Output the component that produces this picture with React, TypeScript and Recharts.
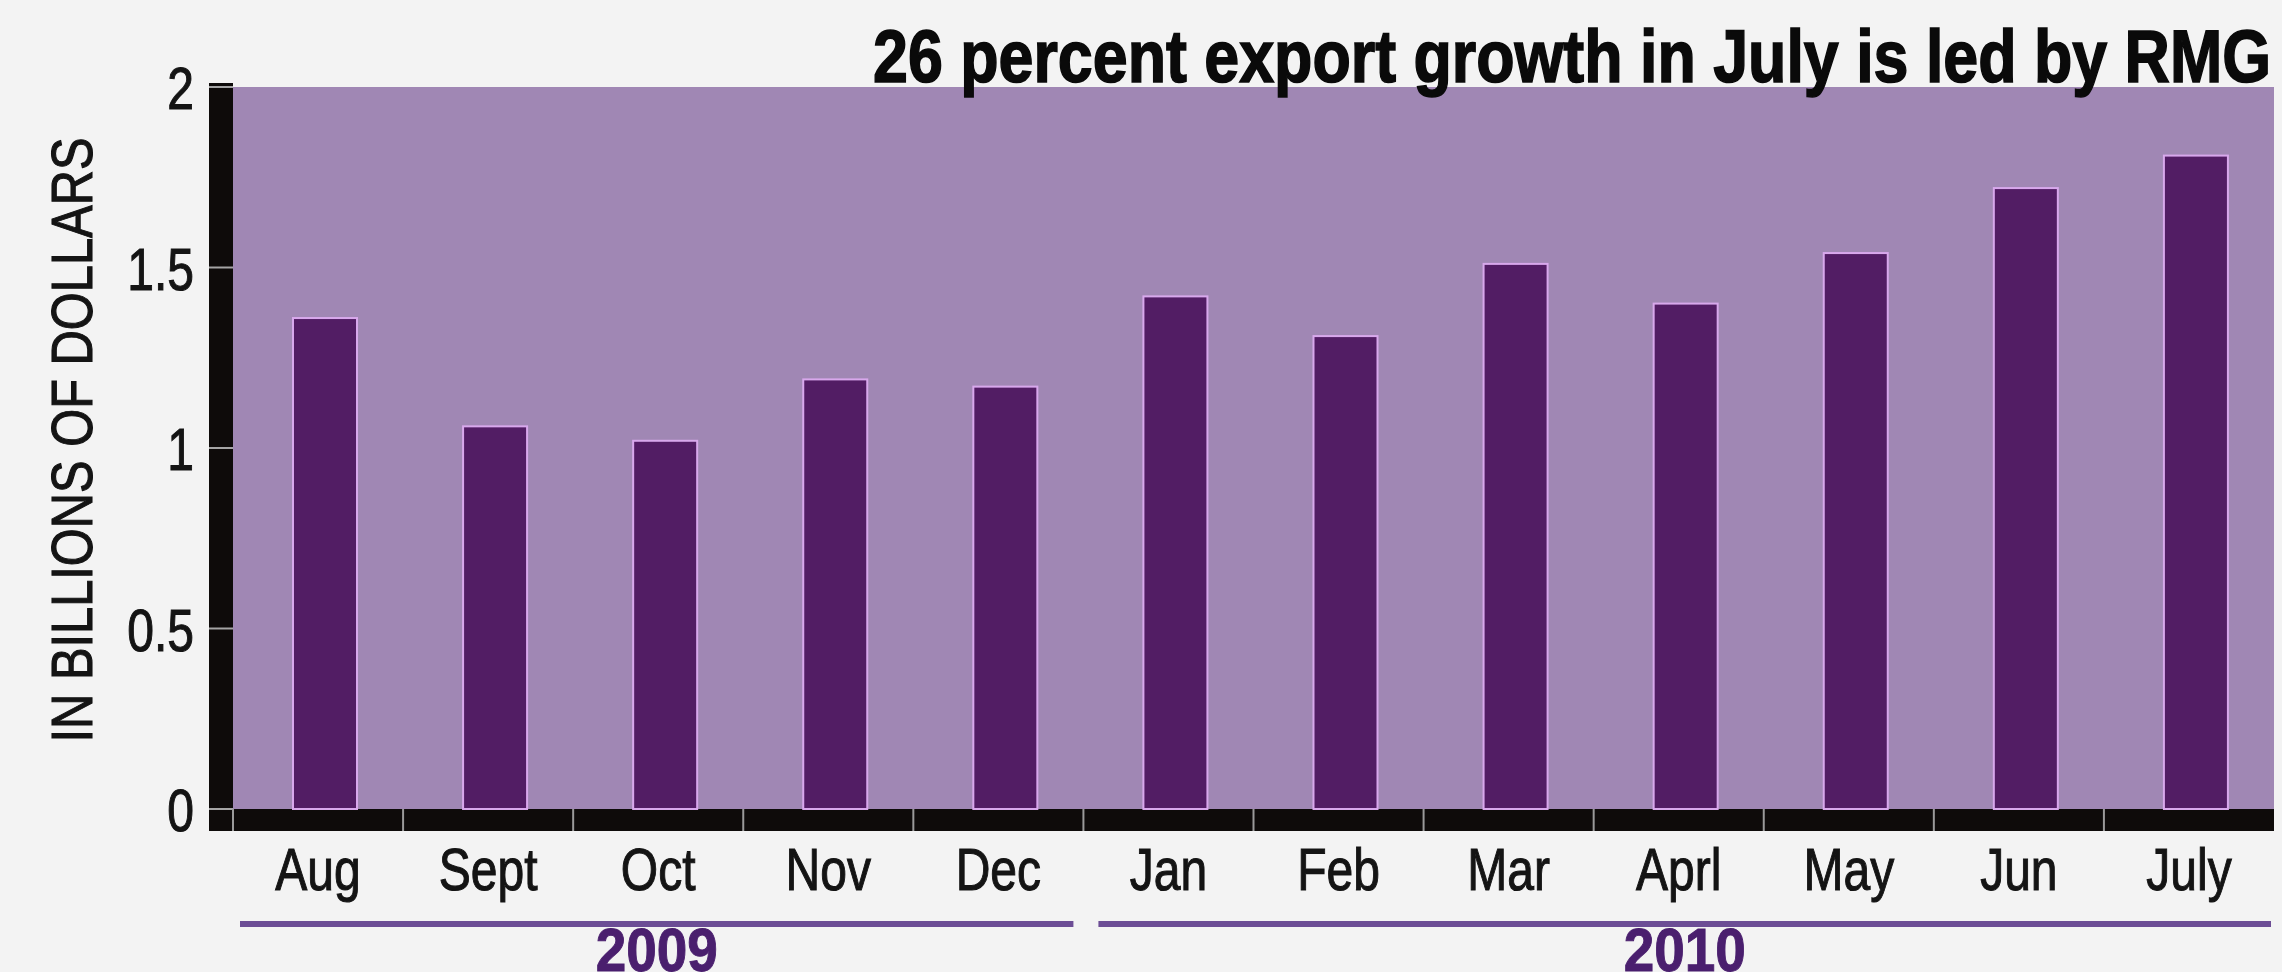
import React from 'react';
import { BarChart, Bar, XAxis, YAxis, ReferenceArea } from 'recharts';

// ---- data ----
const categories = ['Aug', 'Sept', 'Oct', 'Nov', 'Dec', 'Jan', 'Feb', 'Mar', 'Aprl', 'May', 'Jun', 'July'];
const exportValues = [1.36, 1.06, 1.02, 1.19, 1.17, 1.42, 1.31, 1.51, 1.40, 1.54, 1.72, 1.81];
const yTicks = [0, 0.5, 1, 1.5, 2];
const yearLabels = ['2009', '2010'];
const yearFirstIndex = [0, 5];
const yearLastIndex = [4, 11];
const titleText = '26 percent export growth in July is led by RMG';
const yAxisTitle = 'IN BILLIONS OF DOLLARS';

const data = categories.map((month, i) => ({ month, value: exportValues[i] }));

// ---- layout ----
const W = 2282;
const H = 972;
const PLOT_LEFT = 233;
const PLOT_RIGHT = 2274;
const PLOT_TOP = 87;
const PLOT_BOTTOM = 809;
const BAR_W = 24;
const BAND_H = 22;
const CAT_W = (PLOT_RIGHT - PLOT_LEFT) / categories.length;

const SANS = "'Liberation Sans', Arimo, Arial, sans-serif";

const BG = '#F3F3F3';
const PLOT_BG = '#A087B4';
const BAR_FILL = '#521D64';
const BAR_EDGE = '#D8A8EC';
const YEAR_COLOR = '#6C4D95';
const YEAR_TEXT = '#4A1F6E';
const INK = '#141414';

const BarShape = (p: any) => (
  <rect x={p.x + 7} y={p.y} width={p.width} height={p.height} fill={BAR_FILL} stroke={BAR_EDGE} strokeWidth={2} />
);

const XTick = (p: any) => (
  <g transform={`translate(${p.x} ${p.y + 81}) scale(0.8 1)`}>
    <text x={0} y={0} textAnchor="middle" fontFamily={SANS} fontSize={60} fill={INK} stroke={INK} strokeWidth={1.1}>
      {p.payload.value}
    </text>
  </g>
);

const YTick = (p: any) => (
  <g transform={`translate(${p.x} ${p.y + 22}) scale(0.8 1)`}>
    <text x={0} y={0} textAnchor="end" fontFamily={SANS} fontSize={60} fill={INK} stroke={INK} strokeWidth={1.1}>
      {String(p.payload.value)}
    </text>
  </g>
);

export default function App() {
  return (
    <div style={{ position: 'absolute', left: 0, top: 0, width: W, height: H, background: BG, overflow: 'hidden' }}>
      <svg width={W} height={H} style={{ position: 'absolute', left: 0, top: 0 }}>
        <rect x={PLOT_LEFT - BAR_W} y={PLOT_TOP - 4} width={BAR_W} height={PLOT_BOTTOM + BAND_H - PLOT_TOP + 4} fill="#0E0B0A" />
        <rect x={PLOT_LEFT - BAR_W} y={PLOT_BOTTOM} width={PLOT_RIGHT - PLOT_LEFT + BAR_W} height={BAND_H} fill="#0E0B0A" />
      </svg>
      <div style={{ position: 'absolute', left: 0, top: 0 }}>
        <BarChart width={W} height={H} data={data} margin={{ top: PLOT_TOP, right: W - PLOT_RIGHT, bottom: 0, left: 0 }}>
          <ReferenceArea y1={0} y2={2} fill={PLOT_BG} fillOpacity={1} stroke="none" />
          <YAxis
            type="number"
            domain={[0, 2]}
            ticks={yTicks}
            width={PLOT_LEFT}
            axisLine={false}
            tickLine={{ stroke: '#A5A5A5', strokeWidth: 2 }}
            tickSize={BAR_W}
            tickMargin={15}
            tick={<YTick />}
          />
          <XAxis
            dataKey="month"
            height={H - PLOT_BOTTOM}
            axisLine={false}
            tickLine={false}
            tickSize={0}
            tickMargin={0}
            interval={0}
            tick={<XTick />}
          />
          <Bar dataKey="value" barSize={64} isAnimationActive={false} shape={<BarShape />} />
        </BarChart>
      </div>
      <svg width={W} height={H} style={{ position: 'absolute', left: 0, top: 0, pointerEvents: 'none' }}>
        {categories.map((c, i) => (
          <line key={c} x1={PLOT_LEFT + i * CAT_W} x2={PLOT_LEFT + i * CAT_W} y1={PLOT_BOTTOM} y2={PLOT_BOTTOM + BAND_H} stroke="#9A9A9A" strokeWidth={2} />
        ))}
        <text x={2271} y={82} textAnchor="end" fontFamily={SANS} fontWeight={700} fontSize={75} fill="#0A0A0A" stroke="#0A0A0A" strokeWidth={1.6} textLength={1398} lengthAdjust="spacingAndGlyphs">
          {titleText}
        </text>
        <text x={0} y={0} transform="translate(92 440) rotate(-90)" textAnchor="middle" fontFamily={SANS} fontSize={58} fill={INK} stroke={INK} strokeWidth={1.1} textLength={605} lengthAdjust="spacingAndGlyphs">
          {yAxisTitle}
        </text>
        {yearLabels.map((y, i) => {
          const x1 = PLOT_LEFT + yearFirstIndex[i] * CAT_W + (i === 0 ? 7 : 15);
          const x2 = PLOT_LEFT + (yearLastIndex[i] + 1) * CAT_W - (i === 0 ? 10 : 3);
          return (
            <g key={y}>
              <line x1={x1} x2={x2} y1={924} y2={924} stroke={YEAR_COLOR} strokeWidth={6} />
              <g transform={`translate(${(x1 + x2) / 2} 971) scale(0.9 1)`}>
                <text x={0} y={0} textAnchor="middle" fontFamily={SANS} fontWeight={700} fontSize={61} fill={YEAR_TEXT} stroke={YEAR_TEXT} strokeWidth={1}>
                  {y}
                </text>
              </g>
            </g>
          );
        })}
      </svg>
    </div>
  );
}
